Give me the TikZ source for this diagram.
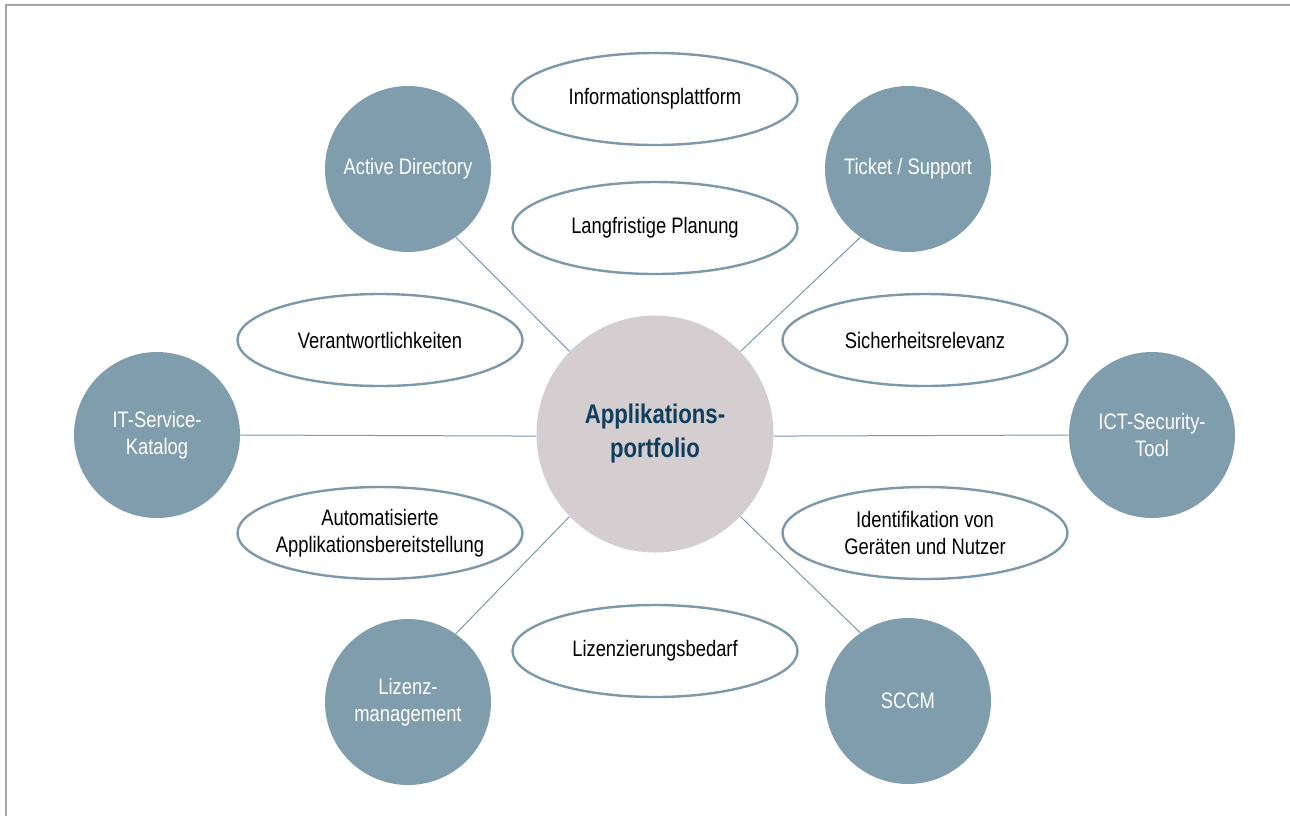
\documentclass[tikz,border=0pt]{standalone}
\usepackage{fontspec}
\setmainfont[FakeStretch=0.82]{Liberation Sans}
\definecolor{satfill}{HTML}{7F9DAD}
\definecolor{ringline}{HTML}{7B99AA}
\definecolor{hubfill}{HTML}{D4CED0}
\definecolor{hubtext}{HTML}{0F3D5C}
\definecolor{framegrey}{HTML}{A8A4A6}
\tikzset{
  sat/.style={circle, fill=satfill, minimum size=83pt, inner sep=0pt,
    text=white, align=center, font=\fontsize{11.2}{13.5}\selectfont},
  topic/.style={ellipse, draw=ringline, line width=1.2pt, fill=white,
    minimum width=142.5pt, minimum height=46pt, inner xsep=-10pt, inner ysep=0pt,
    align=center, font=\fontsize{11.2}{13.5}\selectfont},
  hub/.style={circle, fill=hubfill, minimum size=118.5pt, inner sep=0pt,
    text=hubtext, align=center, font=\fontsize{13.5}{17}\selectfont\bfseries},
  link/.style={draw=ringline, line width=0.5pt}
}
\usetikzlibrary{shapes.geometric}
\begin{document}
\begin{tikzpicture}[x=0.5pt,y=-0.5pt]
  \useasboundingbox (0,0) rectangle (1290,816);
  \draw[framegrey, line width=0.8pt] (1290,5) -- (6,5) -- (6,816);

  \node[hub] (app) at (655,434) {Applikations-\\portfolio};

  \node[sat] (ad) at (408,169) {Active Directory};
  \node[sat] (ticket) at (908,169) {Ticket / Support};
  \node[sat] (itsk) at (157,435) {IT-Service-\\Katalog};
  \node[sat] (ict) at (1152,435) {ICT-Security-\\Tool};
  \node[sat] (lizm) at (408,702) {Lizenz-\\management};
  \node[sat] (sccm) at (908,701) {SCCM};

  \node[topic] (info) at (655,99) {Informationsplattform};
  \node[topic] (plan) at (655,228) {Langfristige Planung};
  \node[topic] (verant) at (380,340) {Verantwortlichkeiten};
  \node[topic] (sicher) at (925,340) {Sicherheitsrelevanz};
  \node[topic] (auto) at (380,533) {Automatisierte\\Applikationsbereitstellung};
  \node[topic] (ident) at (925,533) {Identifikation von\\Geräten und Nutzer};
  \node[topic] (lizb) at (655,651) {Lizenzierungsbedarf};

  \begin{scope}[link]
    \draw (ad.-55) to (app.136);
    \draw (ticket.-125) to (app.44);
    \draw (itsk.east) to (app.181);
    \draw (ict.west) to (app.-1);
    \draw (lizm.55) to (app.-136);
    \draw (sccm.125) to (app.-44);
  \end{scope}
\end{tikzpicture}
\end{document}
